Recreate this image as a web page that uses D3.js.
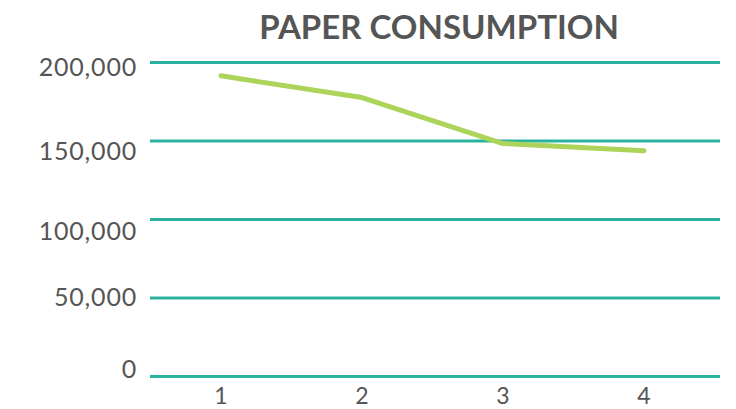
<!DOCTYPE html>
<html><head><meta charset="utf-8">
<script src="https://cdn.jsdelivr.net/npm/d3@7"></script>
<style>body{margin:0;background:#fff}svg{display:block}</style>
</head><body>
<svg id="c" width="736" height="409"></svg>
<script>
const categories = ["1","2","3","4"];
const values = [191500, 177700, 148400, 143800];
const yTicks = [0, 50000, 100000, 150000, 200000];
const title = "PAPER CONSUMPTION";

// layout: vertical nudge of each y tick label's baseline relative to its gridline
const labelNudge = [1.5, 8, 20.5, 19, 13.5];

const svg = d3.select("#c");
const font = "Lato, 'Open Sans', sans-serif";
const x = d3.scalePoint().domain(categories).range([221, 644]);
const y = d3.scaleLinear().domain([0, 200000]).range([376.5, 62.5]);

svg.append("text").attr("x", 439).attr("y", 39).attr("text-anchor","middle")
  .attr("font-family", font).attr("font-weight","bold").attr("font-size", 33)
  .attr("fill","#555").text(title);

const g = svg.append("g");
g.selectAll("line.grid").data(yTicks).enter().append("line")
  .attr("x1",150).attr("x2",720).attr("y1",d=>y(d)).attr("y2",d=>y(d))
  .attr("stroke","#2ab29f").attr("stroke-width",3);

g.selectAll("text.yl").data(yTicks).enter().append("text")
  .attr("x",137).attr("y",(d,i)=>y(d)+labelNudge[i]).attr("text-anchor","end")
  .attr("font-family",font).attr("font-size",25).attr("letter-spacing","0.8px")
  .attr("fill","#555").text(d=>d3.format(",")(d));

g.selectAll("text.xl").data(categories).enter().append("text")
  .attr("x",d=>x(d)).attr("y",404).attr("text-anchor","middle")
  .attr("font-family",font).attr("font-size",23)
  .attr("fill","#555").text(d=>d);

const line = d3.line().x((d,i)=>x(categories[i])).y(d=>y(d));
svg.append("path").datum(values).attr("d", line).attr("fill","none")
  .attr("stroke","#acd35a").attr("stroke-width",5).attr("stroke-linecap","round").attr("stroke-linejoin","round");
</script>
</body></html>
